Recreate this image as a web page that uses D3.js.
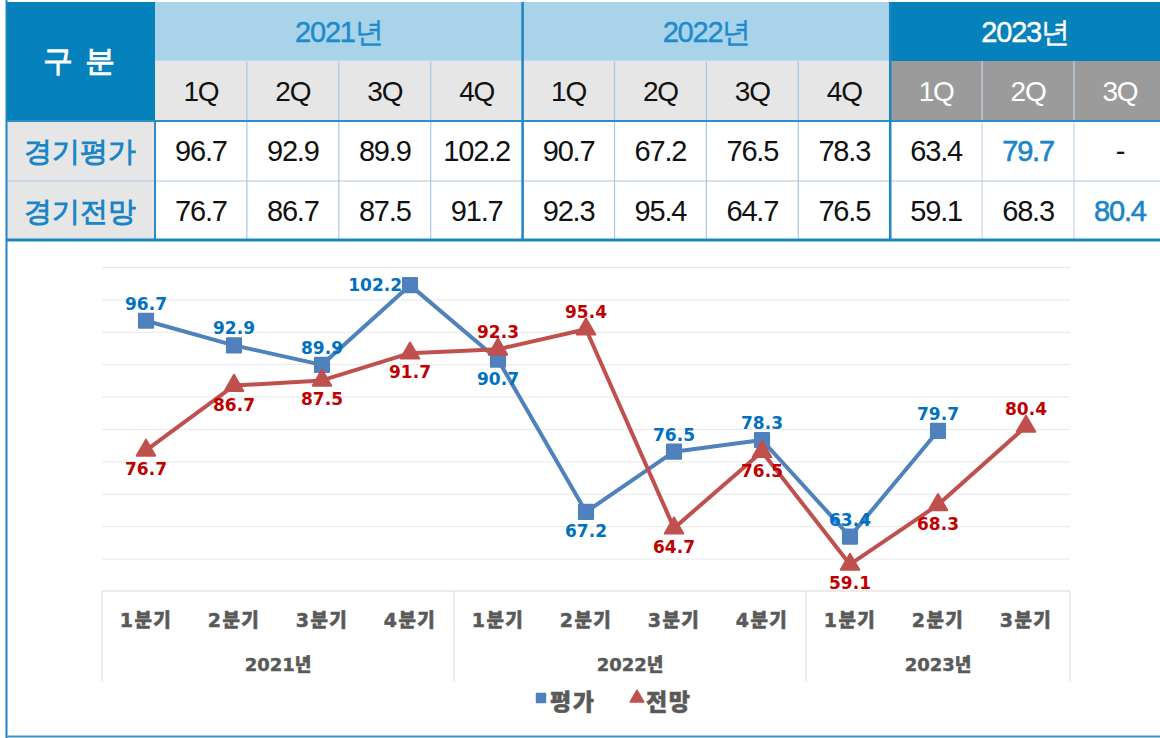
<!DOCTYPE html>
<head>
	<meta charset="utf-8">
	<title>경기평가 / 경기전망</title>
</head>
<style>
body { margin: 0; background: #fff; }
svg { display: block; }
.tbl text { font-family: "Liberation Sans", Arial, sans-serif; }
.kr { font-family: "Noto Sans CJK KR", sans-serif; }
.grid line { stroke: #e8e8e8; stroke-width: 1; }
.grid path { display: none; }
.lbl { font-family: "DejaVu Sans", "Noto Sans CJK KR", sans-serif; font-weight: bold; font-size: 17px; }
.cat { font-family: "DejaVu Sans", "Noto Sans CJK KR", sans-serif; font-weight: 900; fill: #595959; }
</style>
<body>
<svg id="svg" width="1160" height="738"></svg>
<script src="https://cdn.jsdelivr.net/npm/d3@7"></script>
<script>

// data
var years = ["2021년", "2022년", "2023년"];
var quartersPerYear = [4, 4, 3];
var quarterHeads = ["1Q", "2Q", "3Q", "4Q", "1Q", "2Q", "3Q", "4Q", "1Q", "2Q", "3Q"];
var categories = ["1분기", "2분기", "3분기", "4분기", "1분기", "2분기", "3분기", "4분기", "1분기", "2분기", "3분기"];
var rowNames = ["경기평가", "경기전망"];
var seriesNames = ["평가", "전망"];
var evalValues = [96.7, 92.9, 89.9, 102.2, 90.7, 67.2, 76.5, 78.3, 63.4, 79.7, null];
var outlookValues = [76.7, 86.7, 87.5, 91.7, 92.3, 95.4, 64.7, 76.5, 59.1, 68.3, 80.4];

// where the value labels sit (style only)
var evalLabelPos = ["up", "up", "up", "left", "down", "down", "up", "up", "up", "up", "up"];
var outlookLabelPos = ["down", "down", "down", "down", "up", "up", "down", "down", "down", "down", "up"];

var svg = d3.select("svg"),
    width = +svg.attr("width"),
    height = +svg.attr("height");

var darkBlue = "#0581bb",
    lightBlue = "#a8d3e8",
    textBlue = "#1b8ad0",
    cellGray = "#e6e6e6",
    thinLine = "#a9c6e4";

// ---------- table ----------
var tbl = svg.append("g").attr("class", "tbl");
var col = d3.scaleBand().domain(d3.range(11)).range([155, 155 + 11 * 91.9]);
var rowY = [2, 61, 121, 181, 240];
var yearStart = d3.cumsum([0].concat(quartersPerYear));
var lastYear = years.length - 1;

// 구분 header
tbl.append("rect").attr("x", 6).attr("y", rowY[0]).attr("width", 149).attr("height", rowY[2] - rowY[0]).attr("fill", darkBlue);
tbl.append("text").attr("class", "kr").attr("x", 80).attr("y", rowY[1] + 10)
    .attr("text-anchor", "middle").attr("fill", "#fff").attr("font-size", 30).attr("font-weight", "bold")
    .attr("letter-spacing", 2).text("구 분");

// year headers
years.forEach(function(yr, i) {
  var x0 = col(yearStart[i]), x1 = col(yearStart[i + 1] - 1) + col.bandwidth();
  tbl.append("rect").attr("x", x0).attr("y", rowY[0]).attr("width", x1 - x0).attr("height", rowY[1] - rowY[0])
      .attr("fill", i === lastYear ? darkBlue : lightBlue);
  tbl.append("text").attr("x", (x0 + Math.min(x1, width)) / 2).attr("y", rowY[0] + 40)
      .attr("text-anchor", "middle").attr("font-size", 29).attr("letter-spacing", -1.2)
      .attr("stroke", i === lastYear ? "#fff" : textBlue).attr("stroke-width", 0.4)
      .attr("fill", i === lastYear ? "#fff" : textBlue).text(yr);
});

// quarter heads
quarterHeads.forEach(function(q, i) {
  var last = i >= yearStart[lastYear];
  tbl.append("rect").attr("x", col(i)).attr("y", rowY[1]).attr("width", col.bandwidth()).attr("height", rowY[2] - rowY[1])
      .attr("fill", last ? "#9b9b9b" : cellGray);
  tbl.append("text").attr("x", col(i) + col.bandwidth() / 2).attr("y", rowY[1] + 40)
      .attr("text-anchor", "middle").attr("font-size", 28).attr("letter-spacing", -1.2)
      .attr("fill", last ? "#fff" : "#111").text(q);
});

// data rows
[evalValues, outlookValues].forEach(function(vals, r) {
  var y0 = rowY[2 + r];
  tbl.append("rect").attr("x", 6).attr("y", y0).attr("width", 149).attr("height", rowY[3 + r] - y0).attr("fill", cellGray);
  tbl.append("text").attr("class", "kr").attr("x", 80).attr("y", y0 + 40)
      .attr("text-anchor", "middle").attr("font-size", 28).attr("font-weight", "bold")
      .attr("fill", "#1a86c8").text(rowNames[r]);
  var lastIdx = d3.max(vals.map(function(v, i) { return v == null ? -1 : i; }));
  vals.forEach(function(v, i) {
    tbl.append("text").attr("x", col(i) + col.bandwidth() / 2).attr("y", y0 + 40)
        .attr("text-anchor", "middle").attr("font-size", 29).attr("letter-spacing", -1.2)
        .attr("fill", i === lastIdx ? "#1a86c8" : "#111")
        .attr("stroke", i === lastIdx ? "#1a86c8" : "none").attr("stroke-width", 0.6)
        .text(v == null ? "-" : v.toFixed(1));
  });
});

// thin inner lines
d3.range(1, 11).forEach(function(i) {
  tbl.append("line").attr("x1", col(i)).attr("x2", col(i)).attr("y1", rowY[1]).attr("y2", rowY[4])
      .attr("stroke", i >= yearStart[lastYear] + 1 ? "#c5d6e8" : thinLine).attr("stroke-width", 1.2);
});
tbl.append("line").attr("x1", col(0)).attr("x2", col(yearStart[lastYear]))
    .attr("y1", rowY[1]).attr("y2", rowY[1]).attr("stroke", "#d6e6f2").attr("stroke-width", 1);
tbl.append("line").attr("x1", 6).attr("x2", width).attr("y1", rowY[3]).attr("y2", rowY[3])
    .attr("stroke", thinLine).attr("stroke-width", 1.2);
// strong lines
tbl.append("line").attr("x1", 6).attr("x2", width).attr("y1", rowY[2]).attr("y2", rowY[2])
    .attr("stroke", "#2f8cc6").attr("stroke-width", 2);
tbl.append("line").attr("x1", col(0)).attr("x2", col(0)).attr("y1", rowY[2]).attr("y2", rowY[4])
    .attr("stroke", "#2f8cc6").attr("stroke-width", 2);
yearStart.slice(1, -1).forEach(function(i) {
  tbl.append("line").attr("x1", col(i)).attr("x2", col(i)).attr("y1", rowY[0]).attr("y2", rowY[4])
      .attr("stroke", "#1d85c2").attr("stroke-width", 2.5);
});
tbl.append("line").attr("x1", 6).attr("x2", width).attr("y1", rowY[4]).attr("y2", rowY[4])
    .attr("stroke", "#1d85c2").attr("stroke-width", 3);

// outer frame of chart box
svg.append("line").attr("x1", 6.5).attr("x2", 6.5).attr("y1", 0).attr("y2", height).attr("stroke", "#1d85c2").attr("stroke-width", 2);
svg.append("line").attr("x1", 6).attr("x2", width).attr("y1", 736.5).attr("y2", 736.5).attr("stroke", "#3a8fc0").attr("stroke-width", 2);

// ---------- chart ----------
var x = d3.scaleBand().domain(d3.range(11)).range([102, 1070]);
var cx = function(i) { return x(i) + x.bandwidth() / 2; };
var y = d3.scaleLinear().domain([55, 105]).range([591, 267]);

svg.append("g").attr("class", "grid")
    .attr("transform", "translate(102,0)")
    .call(d3.axisLeft(y).tickValues(d3.range(60, 106, 5)).tickSize(-(1070 - 102)).tickFormat(""));

// category box
var catG = svg.append("g");
catG.append("line").attr("x1", 102).attr("x2", 1070).attr("y1", y(55)).attr("y2", y(55)).attr("stroke", "#d9d9d9");
var seps = yearStart.map(function(i) { return i < 11 ? x(i) : 1070; });
seps.forEach(function(sx) {
  catG.append("line").attr("x1", sx).attr("x2", sx).attr("y1", y(55)).attr("y2", 681).attr("stroke", "#d9d9d9");
});
catG.selectAll("text.q").data(categories).enter().append("text")
    .attr("class", "cat q").attr("x", function(d, i) { return cx(i); }).attr("y", 627)
    .attr("text-anchor", "middle").attr("font-size", 19).attr("letter-spacing", 1.5)
    .attr("stroke", "#595959").attr("stroke-width", 0.5).text(function(d) { return d; });
catG.selectAll("text.yr").data(years).enter().append("text")
    .attr("class", "cat yr").attr("x", function(d, i) { return (seps[i] + seps[i + 1]) / 2; }).attr("y", 671)
    .attr("text-anchor", "middle").attr("font-size", 18)
    .attr("stroke", "#595959").attr("stroke-width", 0.4).text(function(d) { return d; });

var line = d3.line()
    .defined(function(d) { return d != null; })
    .x(function(d, i) { return cx(i); })
    .y(function(d) { return y(d); });

var series = [
  { name: seriesNames[0], values: evalValues, color: "#4f81bd", label: "#0070c0", pos: evalLabelPos, sym: d3.symbolSquare, size: 200 },
  { name: seriesNames[1], values: outlookValues, color: "#c0504d", label: "#c00000", pos: outlookLabelPos, sym: d3.symbolTriangle, size: 150 }
];

series.forEach(function(s) {
  svg.append("path").datum(s.values)
      .attr("fill", "none").attr("stroke", s.color).attr("stroke-width", 4).attr("stroke-linejoin", "round")
      .attr("d", line);
});

series.forEach(function(s) {
  var pts = s.values.map(function(v, i) { return { v: v, i: i }; }).filter(function(d) { return d.v != null; });
  svg.append("g").selectAll("path").data(pts).enter().append("path")
      .attr("d", d3.symbol().type(s.sym).size(s.size))
      .attr("transform", function(d) { return "translate(" + cx(d.i) + "," + y(d.v) + ")"; })
      .attr("fill", s.color).attr("stroke", s.color).attr("stroke-width", 2).attr("stroke-linejoin", "round");
});

series.forEach(function(s) {
  var pts = s.values.map(function(v, i) { return { v: v, i: i }; }).filter(function(d) { return d.v != null; });
  svg.append("g").selectAll("text").data(pts).enter().append("text")
      .attr("class", "lbl").attr("fill", s.label)
      .attr("x", function(d) { return s.pos[d.i] === "left" ? cx(d.i) - 8 : cx(d.i); })
      .attr("y", function(d) {
        var p = s.pos[d.i];
        return y(d.v) + (p === "up" ? -11 : p === "down" ? 25 : 6);
      })
      .attr("text-anchor", function(d) { return s.pos[d.i] === "left" ? "end" : "middle"; })
      .text(function(d) { return d.v.toFixed(1); });
});

// legend
var leg = svg.append("g").attr("transform", "translate(0,701)");
var legX = [541, 637];
series.forEach(function(s, k) {
  leg.append("path").attr("d", d3.symbol().type(s.sym).size(80))
      .attr("transform", "translate(" + legX[k] + ",-3)")
      .attr("fill", s.color).attr("stroke", s.color).attr("stroke-width", 1.5).attr("stroke-linejoin", "round");
  leg.append("text").attr("class", "cat").attr("x", legX[k] + 9).attr("y", 9)
      .attr("font-size", 23).attr("letter-spacing", 1.5)
      .attr("stroke", "#595959").attr("stroke-width", 0.5).text(s.name);
});

</script>
</body>
